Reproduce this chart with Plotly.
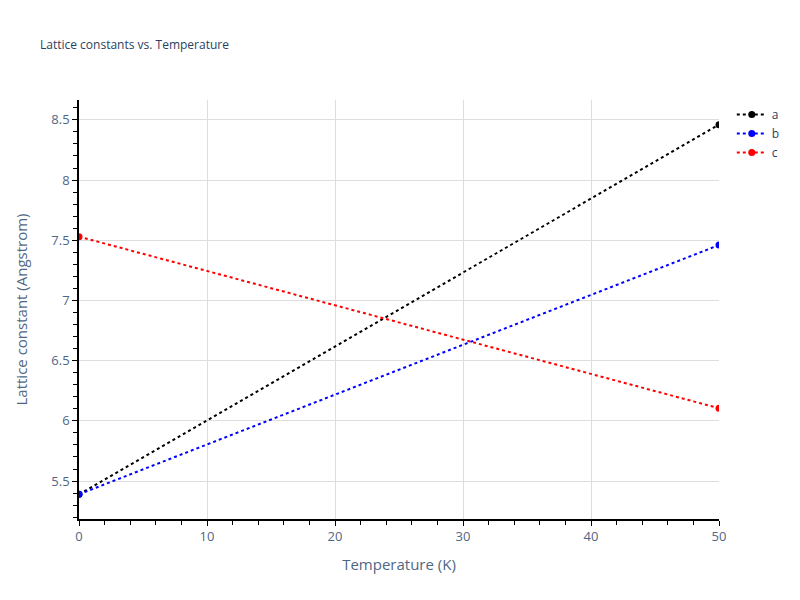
import plotly.graph_objects as go

# temperatures (K) and lattice constants (Angstrom)
temperature = [0, 50]
lattice_a = [5.39, 8.46]
lattice_b = [5.39, 7.46]
lattice_c = [7.53, 6.105]

series = [("a", lattice_a, "black"), ("b", lattice_b, "blue"), ("c", lattice_c, "red")]

fig = go.Figure()
for name, vals, color in series:
    fig.add_trace(go.Scatter(
        x=temperature, y=vals, name=name, mode="lines+markers",
        line=dict(color=color, dash="dot", width=2),
        marker=dict(color=color, size=7),
    ))

axis_style = dict(
    showline=True, linecolor="black", linewidth=1.5, mirror=False,
    ticks="outside", tickcolor="black", ticklen=5,
    showgrid=True, gridcolor="#dddddd", zeroline=False,
    tickfont=dict(size=13, color="#506784"),
)

# page body has an 8px offset, so margins are shifted to compensate
fig.update_layout(
    template="plotly_white",
    width=800, height=600,
    margin=dict(l=71, r=89, t=92, b=89, autoexpand=False),
    title=dict(text="Lattice constants vs. Temperature", x=0.04, y=0.945,
               font=dict(size=12, color="#2a3f5f")),
    legend=dict(font=dict(size=12, color="#2a3f5f")),
    xaxis=dict(title=dict(text="Temperature (K)", font=dict(size=15, color="#506784")),
               range=[0, 50], dtick=10,
               minor=dict(ticks="outside", dtick=2, ticklen=4, tickcolor="black"),
               **axis_style),
    yaxis=dict(title=dict(text="Lattice constant (Angstrom)", standoff=20,
                          font=dict(size=15, color="#506784")),
               range=[5.185, 8.665], dtick=0.5,
               minor=dict(ticks="outside", dtick=0.1, ticklen=4, tickcolor="black"),
               **axis_style),
)

fig.write_html("out.html")
